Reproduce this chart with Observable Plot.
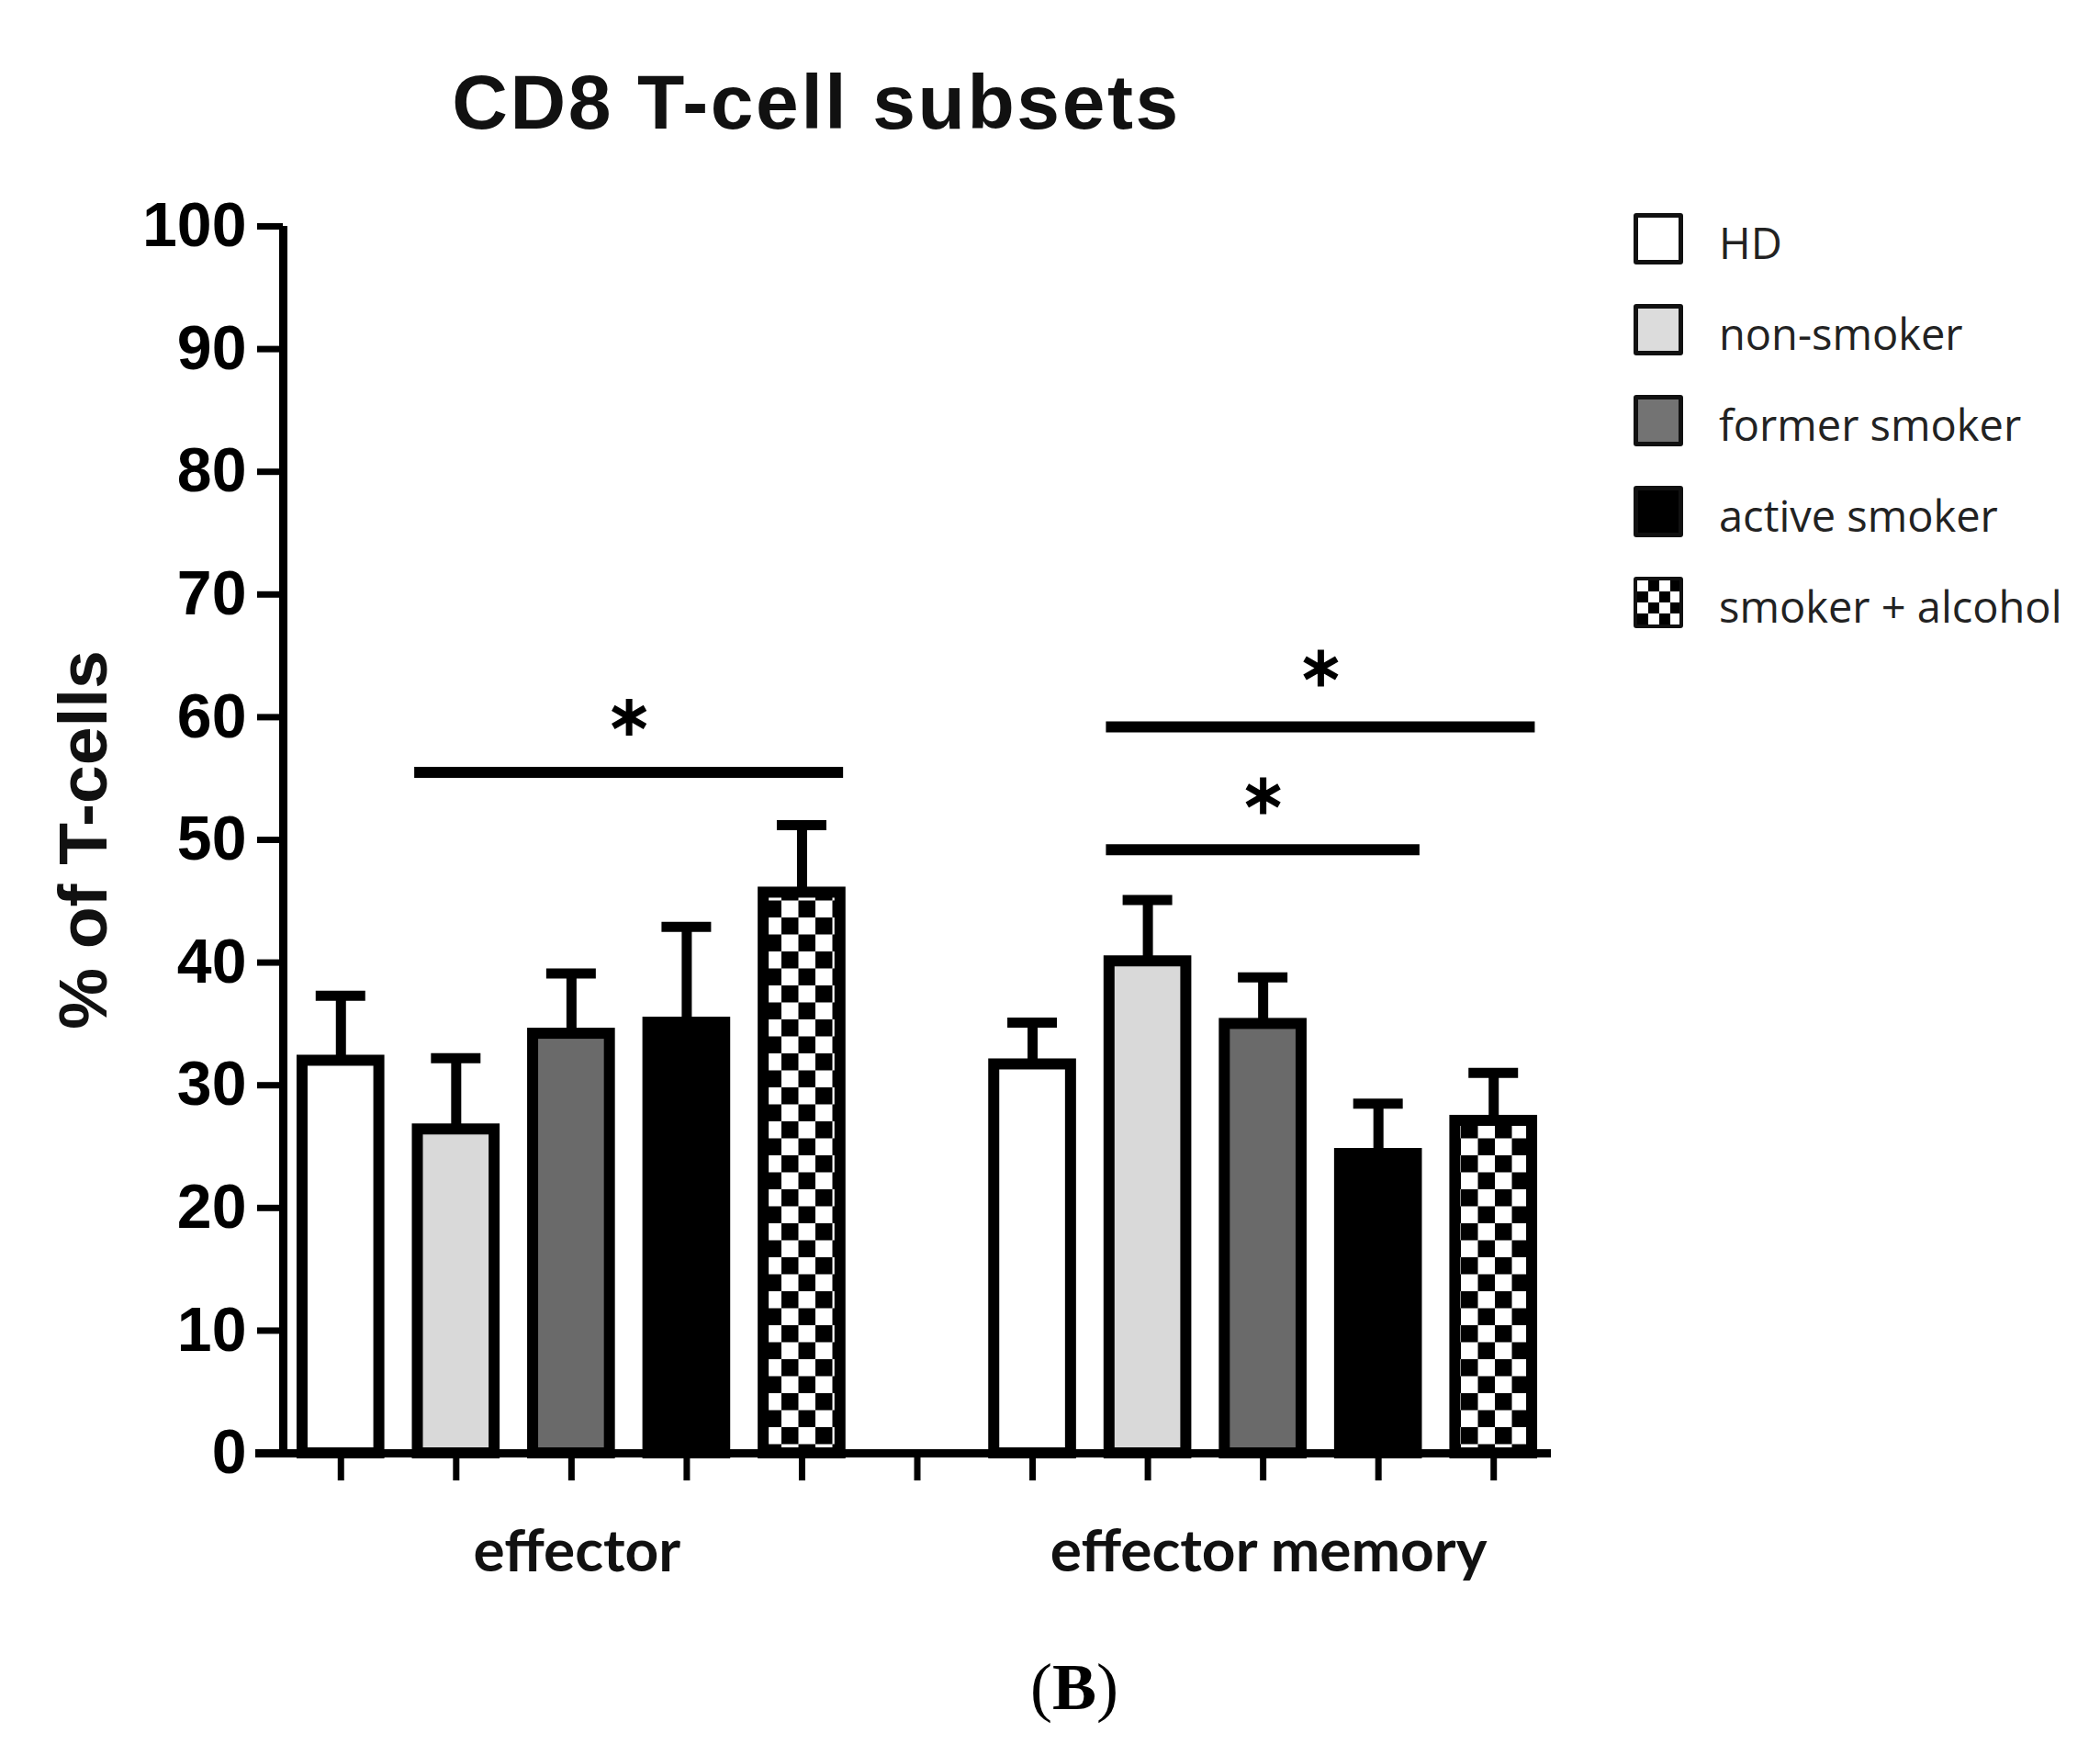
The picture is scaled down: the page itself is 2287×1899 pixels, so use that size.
<!DOCTYPE html>
<html>
<head>
<meta charset="utf-8">
<script src="https://cdn.jsdelivr.net/npm/d3@7"></script>
<script src="https://cdn.jsdelivr.net/npm/@observablehq/plot@0.6"></script>
<style>
  html, body { margin: 0; padding: 0; background: #fff; overflow: hidden; }
  #wrap { position: relative; width: 2287px; height: 1899px; background: #fff; }
  #wrap svg { position: absolute; left: 0; top: 0; }
  .title { position: absolute; left: 389px; top: 69px; width: 1000px; text-align: center;
           font-family: "Liberation Sans", Arial, sans-serif; font-weight: bold; font-size: 84px;
           line-height: 1; letter-spacing: 2.6px; color: #111; }
  .caption { position: absolute; left: 1070px; top: 1801px; width: 200px; text-align: center;
             font-family: "Liberation Serif", "Times New Roman", serif; font-size: 72px; line-height: 1; color: #000; }
  .caption b { font-weight: bold; }
  .sw { position: absolute; box-sizing: border-box; width: 54px; height: 56px; border: 5px solid #111; border-radius: 3px; }
  .lt { position: absolute; font-family: "Open Sans", sans-serif; font-size: 47px; line-height: 1; color: #222; white-space: nowrap; }
</style>
</head>
<body>
<div id="wrap"></div>
<script>
// ---- data ----
const groups = ["effector", "effector memory"];
const series = ["HD", "non-smoker", "former smoker", "active smoker", "smoker + alcohol"];
const effectorMean = [32.0, 26.4, 34.2, 35.1, 45.7];
const effectorSEM  = [5.3, 5.8, 4.9, 7.8, 5.5];
const memoryMean   = [31.7, 40.1, 35.0, 24.4, 27.1];
const memorySEM    = [3.4, 5.0, 3.8, 4.1, 3.9];
// significance comparisons
const sigGroup = ["effector", "effector memory", "effector memory"];
const sigFrom  = ["non-smoker", "non-smoker", "non-smoker"];
const sigTo    = ["smoker + alcohol", "active smoker", "smoker + alcohol"];
const sigY     = [55.5, 49.2, 59.2];
const sigStarY = [60.0, 53.6, 64.0];
const sigLabel = ["*", "*", "*"];
const yTicks = [0, 10, 20, 30, 40, 50, 60, 70, 80, 90, 100];
const title = "CD8 T-cell subsets";
const yLabel = "% of T-cells";
const panel = "B";

// ---- styles ----
const fills = ["#ffffff", "#d9d9d9", "#6a6a6a", "#000000", "url(#checker)"];
const legendFills = ["#ffffff", "#dcdcdc", "#737373", "#000000", "checker"];

const per = series.length + 1;
const slotOf = (g, s) => groups.indexOf(g) * per + series.indexOf(s);
const rows = groups.flatMap((g, gi) => series.map((s, si) => ({
  group: g, series: s, slot: slotOf(g, s),
  mean: gi === 0 ? effectorMean[si] : memoryMean[si],
  sem: gi === 0 ? effectorSEM[si] : memorySEM[si]
})));
const sigs = sigGroup.map((g, i) => ({
  a: slotOf(g, sigFrom[i]), b: slotOf(g, sigTo[i]), y: sigY[i], sy: sigStarY[i], label: sigLabel[i]
}));
const nSlots = groups.length * per - 1;
const barHalf = 0.333, capHalf = 0.215, edge = 0.36;
const groupLabels = groups.map((g, gi) => ({g, slot: gi * per + (series.length - 1) / 2}));

const svg = Plot.plot({
  width: 2287, height: 1899,
  marginLeft: 308, marginRight: 598, marginTop: 246, marginBottom: 317,
  x: {domain: [-0.5, nSlots - 0.5], axis: null},
  y: {domain: [0, 100], axis: null},
  color: {type: "ordinal", domain: series, range: fills},
  style: {background: "white", overflow: "visible"},
  marks: [
    Plot.ruleX(rows, {x: "slot", y1: "mean", y2: d => d.mean + d.sem, strokeWidth: 11, stroke: "black"}),
    Plot.ruleY(rows, {y: d => d.mean + d.sem, x1: d => d.slot - capHalf, x2: d => d.slot + capHalf, strokeWidth: 11, stroke: "black"}),
    Plot.rectY(rows, {x1: d => d.slot - barHalf, x2: d => d.slot + barHalf, y1: 0, y2: "mean", fill: "series", stroke: "black", strokeWidth: 12}),
    Plot.axisY({ticks: yTicks, tickSize: 28, tickPadding: 12, strokeWidth: 7, label: null,
      fontSize: 68, fontWeight: "bold", fontFamily: "Liberation Sans Narrow, Liberation Sans, Arial, sans-serif"}),
    Plot.axisX({ticks: d3.range(nSlots), tickSize: 30, strokeWidth: 7, tickFormat: () => "", label: null}),
    Plot.ruleX([-0.5], {y1: 0, y2: 100, strokeWidth: 9, stroke: "black"}),
    Plot.ruleY([0], {insetLeft: -30, strokeWidth: 9, stroke: "black"}),
    Plot.ruleY(sigs, {y: "y", x1: d => d.a - edge, x2: d => d.b + edge, strokeWidth: 12, stroke: "black"}),
    Plot.dot(sigs, {x: d => (d.a + d.b) / 2, y: "sy", symbol: "asterisk", r: 19, stroke: "black", strokeWidth: 7}),
    Plot.text(groupLabels, {x: "slot", text: "g", frameAnchor: "bottom", lineAnchor: "bottom", dy: 128, dx: 6,
      fontSize: 64, fontWeight: "bold", fontFamily: "Lato, sans-serif", fill: "#111"}),
    Plot.text([yLabel], {text: d => d, frameAnchor: "left", textAnchor: "middle", rotate: -90, dx: -217, lineAnchor: "middle",
      fontSize: 75, fontWeight: "bold", fontFamily: "Liberation Sans, Arial, sans-serif", fill: "#111"})
  ]
});

// checker pattern
const defs = d3.select(svg).insert("defs", ":first-child");
const pat = defs.append("pattern").attr("id", "checker").attr("patternUnits", "userSpaceOnUse")
  .attr("width", 37).attr("height", 37);
pat.append("rect").attr("width", 37).attr("height", 37).attr("fill", "#fff");
pat.append("rect").attr("width", 18.5).attr("height", 18.5).attr("fill", "#000");
pat.append("rect").attr("x", 18.5).attr("y", 18.5).attr("width", 18.5).attr("height", 18.5).attr("fill", "#000");

const wrap = document.getElementById("wrap");
wrap.appendChild(svg);

// title & caption
const t = document.createElement("div"); t.className = "title"; t.textContent = title; wrap.appendChild(t);
const c = document.createElement("div"); c.className = "caption";
c.innerHTML = "(<b>" + panel + "</b>)"; wrap.appendChild(c);

// legend
series.forEach((s, i) => {
  const cy = 260 + i * 99;
  const sw = document.createElement("div"); sw.className = "sw";
  sw.style.left = "1779px"; sw.style.top = (cy - 28) + "px";
  if (legendFills[i] === "checker") {
    sw.style.backgroundImage = "conic-gradient(#000 25%, #fff 0 50%, #000 0 75%, #fff 0)";
    sw.style.backgroundSize = "24px 24px";
    sw.style.borderWidth = "4px";
  } else sw.style.background = legendFills[i];
  wrap.appendChild(sw);
  const tx = document.createElement("div"); tx.className = "lt";
  tx.style.left = "1872px"; tx.style.top = (cy - 19) + "px"; tx.textContent = s;
  wrap.appendChild(tx);
});
</script>
</body>
</html>
